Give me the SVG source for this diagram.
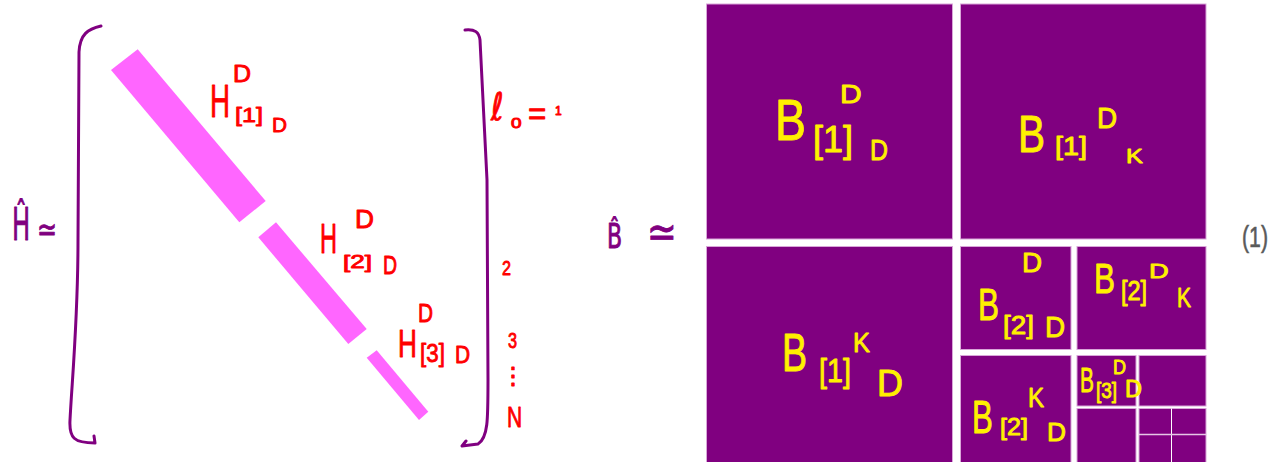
<svg xmlns="http://www.w3.org/2000/svg" width="1277" height="462" viewBox="0 0 1277 462">
<style>
.t{font-family:"Liberation Sans","DejaVu Sans",sans-serif}
.s{font-family:"DejaVu Sans","Liberation Sans",sans-serif}
.r{fill:#ff0000;stroke:#ff0000;stroke-width:0.9;stroke-linejoin:round}
.y{fill:#fff000;stroke:#fff000;stroke-width:0.9;stroke-linejoin:round}
.p{fill:#800080;stroke:#800080;stroke-width:0.9;stroke-linejoin:round}
.g{fill:#5a5a5a;stroke:#5a5a5a;stroke-width:0.6}
.br{fill:none;stroke:#800080;stroke-width:3;stroke-linecap:round;stroke-linejoin:round}
.bar{fill:#ff66ff}
.box{fill:#800080;stroke:#d9a6d9;stroke-width:1}
</style>
<rect width="1277" height="462" fill="#ffffff"/>

<g id="H-hat">
<text class="s p" font-size="44" transform="translate(12,240) scale(0.55,1)">Ĥ</text>
<text class="s p" font-size="34" transform="translate(37,241) scale(0.7,1)">≃</text>
</g>

<g id="matrix-brackets">
<path class="br" d="M101,26 C88,29 80,34 79,52 L78,240 C78,320 72,380 70,420 C69,438 74,443 95,443 M94,436 L95,443"/>
<path class="br" d="M465,30 C475,29 479,32 480,40 L487,180 L488,380 C488,420 488,438 478,444 L462,446 L466,441"/>
</g>

<g id="bar1"><polygon class="bar" points="111,70 137.7,49.3 265.7,201 239.3,222.3"/></g>
<g id="bar2"><polygon class="bar" points="258.3,237.3 276,222.3 366.7,329 348.3,344"/></g>
<g id="bar3"><polygon class="bar" points="366.7,357.7 376.7,350.3 428.3,411.7 419,420"/></g>

<g id="label-H1">
<text class="t r" font-size="47" transform="translate(210,117) scale(0.59,1)">H</text>
<text class="t r" font-size="21" transform="translate(235,122) scale(1.2,1)">[1]</text>
<text class="t r" font-size="21" transform="translate(272,132) scale(0.99,1)">D</text>
<text class="t r" font-size="24" transform="translate(233,82) scale(1.04,1)">D</text>
</g>
<g id="label-H2">
<text class="t r" font-size="42" transform="translate(320,253) scale(0.56,1)">H</text>
<text class="t r" font-size="18" transform="translate(343,268) scale(1.45,1)">[2]</text>
<text class="t r" font-size="26" transform="translate(383,274) scale(0.75,1)">D</text>
<text class="t r" font-size="26" transform="translate(355,228) scale(1.01,1)">D</text>
</g>
<g id="label-H3">
<text class="t r" font-size="38" transform="translate(398,357) scale(0.69,1)">H</text>
<text class="t r" font-size="26" transform="translate(420,362) scale(0.86,1)">[3]</text>
<text class="t r" font-size="24" transform="translate(455,363) scale(0.87,1)">D</text>
<text class="t r" font-size="26" transform="translate(418,322) scale(0.8,1)">D</text>
</g>

<g id="row-labels">
<text class="s r" font-size="38" transform="translate(491,120) scale(0.8,1)">ℓ</text>
<text class="t r" font-size="14" transform="translate(511,128) scale(1.35,1)">0</text>
<text class="t r" font-size="32" transform="translate(528,124) scale(0.98,1)">=</text>
<text class="t r" font-size="12" transform="translate(555,115)">1</text>
<text class="t r" font-size="21" transform="translate(502,275) scale(0.77,1)">2</text>
<text class="t r" font-size="22" transform="translate(508,348) scale(0.74,1)">3</text>
<text class="s r" font-size="24" x="513" y="384" text-anchor="middle">⋮</text>
<text class="t r" font-size="30" transform="translate(507,427) scale(0.7,1)">N</text>
</g>

<g id="B-hat">
<text class="s p" transform="translate(607,248) scale(0.65,1)" font-size="34">B̂</text>
<text class="s p" font-size="44" transform="translate(647,247) scale(0.81,1)">≃</text>
</g>

<g id="grid">
<rect class="box" x="706.5" y="4" width="246" height="235"/>
<rect class="box" x="960.5" y="4" width="245.5" height="235"/>
<rect class="box" x="706.5" y="246.5" width="246" height="220"/>
<rect class="box" x="960.5" y="246.5" width="110.5" height="103"/>
<rect class="box" x="1077" y="246.5" width="129" height="103"/>
<rect class="box" x="960.5" y="355.5" width="110.5" height="110"/>
<rect class="box" x="1077" y="355.5" width="59" height="50.5"/>
<rect class="box" x="1139" y="355.5" width="67" height="50.5"/>
<rect class="box" x="1077" y="408.5" width="59" height="58"/>
<rect class="box" x="1139" y="408.5" width="67" height="58"/>
<line x1="1171.5" y1="408.5" x2="1171.5" y2="462" stroke="#ffffff" stroke-width="1"/>
<line x1="1139" y1="434.5" x2="1206" y2="434.5" stroke="#e6c6e6" stroke-width="1.5"/>
</g>

<g id="label-B1DD">
<text class="t y" font-size="58" transform="translate(775,140) scale(0.8,1)">B</text>
<text class="t y" font-size="36" transform="translate(813,152)">[1]</text>
<text class="t y" font-size="30" transform="translate(870,160) scale(0.83,1)">D</text>
<text class="t y" font-size="25" transform="translate(840,103) scale(1.2,1)">D</text>
</g>
<g id="label-B1DK">
<text class="t y" font-size="52" transform="translate(1018,152) scale(0.78,1)">B</text>
<text class="t y" font-size="25" transform="translate(1055,155) scale(1.15,1)">[1]</text>
<text class="t y" font-size="29" transform="translate(1097,128) scale(0.96,1)">D</text>
<text class="t y" font-size="21" transform="translate(1126,163) scale(1.2,1)">K</text>
</g>
<g id="label-B1KD">
<text class="t y" font-size="53" transform="translate(782,371) scale(0.71,1)">B</text>
<text class="t y" font-size="33" transform="translate(819,382) scale(0.87,1)">[1]</text>
<text class="t y" font-size="27" transform="translate(853,352) scale(0.94,1)">K</text>
<text class="t y" font-size="36" transform="translate(877,396)">D</text>
</g>
<g id="label-B2DD">
<text class="t y" font-size="45" transform="translate(978,320) scale(0.7,1)">B</text>
<text class="t y" font-size="26" transform="translate(1003,334) scale(1.07,1)">[2]</text>
<text class="t y" font-size="29" transform="translate(1045,337) scale(0.96,1)">D</text>
<text class="t y" font-size="27" transform="translate(1022,272) scale(1.03,1)">D</text>
</g>
<g id="label-B2DK">
<text class="t y" font-size="42" transform="translate(1094,293) scale(0.75,1)">B</text>
<text class="t y" font-size="28" transform="translate(1121,300) scale(0.84,1)">[2]</text>
<text class="t y" font-size="21" transform="translate(1149,278) scale(1.3,1)">D</text>
<text class="t y" font-size="28" transform="translate(1177,307) scale(0.75,1)">K</text>
</g>
<g id="label-B2KD">
<text class="t y" font-size="46" transform="translate(972,433) scale(0.68,1)">B</text>
<text class="t y" font-size="23" transform="translate(1000,435) scale(1.09,1)">[2]</text>
<text class="t y" font-size="28" transform="translate(1028,407) scale(0.86,1)">K</text>
<text class="t y" font-size="25" transform="translate(1047,441) scale(1.05,1)">D</text>
</g>
<g id="label-B3DD">
<text class="t y" font-size="36" transform="translate(1080,392) scale(0.58,1)">B</text>
<text class="t y" font-size="22" transform="translate(1096,398) scale(0.86,1)">[3]</text>
<text class="t y" font-size="24" transform="translate(1125,397) scale(0.98,1)">D</text>
<text class="t y" font-size="20" transform="translate(1113,374) scale(0.9,1)">D</text>
</g>

<g id="eq-number">
<text class="t g" font-size="30" transform="translate(1242,247) scale(0.71,1)">(1)</text>
</g>
</svg>
